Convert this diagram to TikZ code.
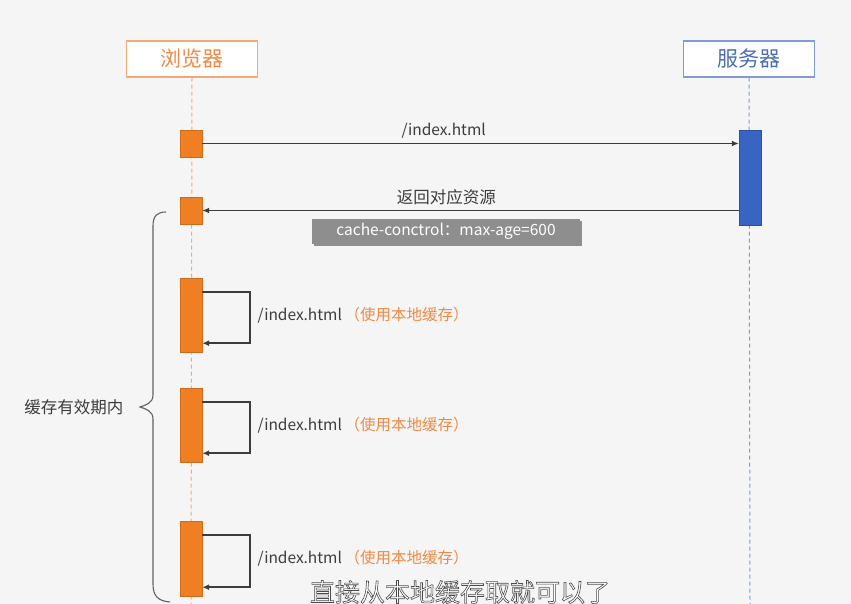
\documentclass[tikz,border=0pt]{standalone}
\usepackage{fontspec}
\setmainfont{Noto Sans CJK SC}
\usetikzlibrary{arrows.meta,positioning,shadows}

\definecolor{bgc}{HTML}{F5F5F5}
\definecolor{actor}{HTML}{F07E22}
\definecolor{actorline}{HTML}{F4A875}
\definecolor{actortext}{HTML}{EE8A45}
\definecolor{srv}{HTML}{3864C2}
\definecolor{srvline}{HTML}{7E9BD3}
\definecolor{srvtext}{HTML}{4A6DB3}
\definecolor{msgc}{HTML}{3C3C3C}
\definecolor{tagc}{HTML}{8E8E8E}

\begin{document}
\begin{tikzpicture}[x=1pt,y=-1pt,>={Latex[length=7pt,width=6pt]}]
  \tikzstyle{head}=[draw,line width=1.3pt,minimum width=131pt,minimum height=36pt,fill=white,font=\fontsize{21}{24}\selectfont]
  \tikzstyle{act}=[draw=actor!85!black,fill=actor,minimum width=22pt,inner sep=0pt]
  \tikzstyle{life}=[line width=1pt,dash pattern=on 4pt off 3pt]
  \tikzstyle{msg}=[draw=msgc,line width=1.6pt,->]
  \tikzstyle{lbl}=[font=\fontsize{15.5}{18}\selectfont,text=msgc]
  \useasboundingbox[fill=bgc] (0,0) rectangle (851,604);
  \begin{scope}
  \clip (0,0) rectangle (851,604);

  % participants
  \node[head,draw=actorline,text=actortext] (browser) at (192,59) {浏览器};
  \node[head,draw=srvline,text=srvtext] (server) at (749,59) {服务器};
  \coordinate (browserend) at (191,604);
  \coordinate (serverend) at (750,604);
  \draw[life,actorline] (browser.south) -- (browserend);
  \draw[life,srvline] (server.south) -- (serverend);

  % activations
  \node[act,minimum height=27pt] (a1) at (191,143.5) {};
  \node[act,minimum height=27pt] (a2) at (191,210.5) {};
  \node[act,minimum height=74pt] (a3) at (191,315) {};
  \node[act,minimum height=74pt] (a4) at (191,425) {};
  \node[act,minimum height=75pt] (a5) at (191,558.5) {};
  \node[draw=srv!80!black,fill=srv,minimum width=22pt,minimum height=95pt,inner sep=0pt] (s1) at (750,177.5) {};

  % request and response
  \draw[msg] (a1.east) -- (a1.east -| s1.west) node[lbl,pos=0.45,above=1pt] {/index.html};
  \draw[msg] (a2.east -| s1.west) -- (a2.east) node[lbl,pos=0.545,above=1pt,font=\fontsize{16.5}{19}\selectfont] {返回对应资源};
  \node[fill=tagc,text=white,minimum width=268pt,minimum height=25pt,inner sep=0pt,font=\fontsize{15.5}{18}\selectfont,
        drop shadow={shadow xshift=1.5pt,shadow yshift=-1.5pt,fill=gray!60!black,opacity=0.6}] (cc) at (446,231.5) {cache-conctrol：max-age=600};

  % local cache hits
  \foreach \n in {a3,a4,a5}{
    \draw[msg] ([yshift=-14pt]\n.north east) -- ++(48,0) |- ([yshift=9pt]\n.south east);
    \node[lbl,anchor=west] (\n txt) at ([xshift=52pt]\n.east) {/index.html\,{\color{actortext}（使用本地缓存）}};
  }

  % brace
  \draw[gray!75!black,line width=1.1pt] (166,212) .. controls (157,212) and (153,216) .. (153,226) -- (153,395)
    .. controls (153,403) and (146,405) .. (140,407) .. controls (146,409) and (153,411) .. (153,419) -- (153,584)
    .. controls (153,596) and (158,601) .. (170,602);
  \node[lbl,font=\fontsize{16.5}{19}\selectfont,anchor=east] (valid) at (127,407) {缓存有效期内};

  \node[font=\fontsize{25}{28}\selectfont,text=white] (sub) at (460,592)
    {\special{pdf:literal direct 0.3 0.3 0.3 RG 2 Tr 0.6 w}直接从本地缓存取就可以了\special{pdf:literal direct 0 Tr}};
  \end{scope}
\end{tikzpicture}
\end{document}
